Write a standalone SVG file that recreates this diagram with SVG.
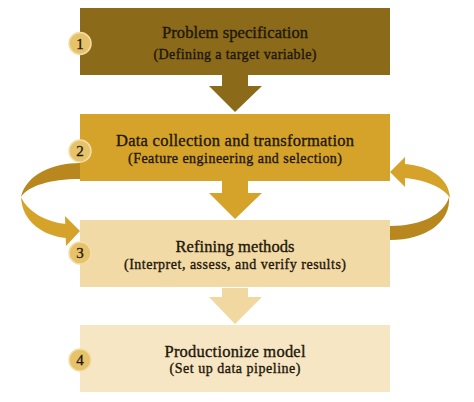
<svg xmlns="http://www.w3.org/2000/svg" width="474" height="402" viewBox="0 0 474 402">
<style>
.t{font-family:"Liberation Serif","Times New Roman",serif;font-size:16.5px;fill:#1e1709;stroke:#1e1709;stroke-width:0.35;text-anchor:middle}
.s{font-family:"Liberation Serif","Times New Roman",serif;font-size:14px;fill:#1e1709;stroke:#1e1709;stroke-width:0.35;text-anchor:middle}
.n{font-family:"Liberation Serif","Times New Roman",serif;font-size:15px;fill:#1e1709;stroke:#1e1709;stroke-width:0.3;text-anchor:middle}
.c{fill:#e6c26a;stroke:#f4dea6;stroke-width:1.5}
</style>
<rect width="474" height="402" fill="#ffffff"/>
<g id="connectors">
<path d="M222,75 H248 V86 H262 L235,112 L209,86 H222 Z" fill="#8b6a1a"/>
<path d="M222,181 H248 V193 H262 L235,219 L209,193 H222 Z" fill="#d6a32a"/>
<path d="M222,288 H248 V297 H262 L235,324 L209,297 H222 Z" fill="#f1d8a0"/>
<g id="loop-left">
<path d="M80,163 C52,163 26,175 21,197 C28,186 50,179 80,179 Z" fill="#b8881f"/>
<path d="M21,197 C22,222 44,236 66,238 L66,224 C46,222 28,212 21,197 Z" fill="#d6a32a"/>
<polygon points="65,216 80,231 66,246" fill="#d6a32a"/>
</g>
<g id="loop-right">
<path d="M390,226 C422,226 444,214 449,197 C451,222 426,240 390,240 Z" fill="#b8881f"/>
<path d="M405,164 C430,166 449,178 450,198 C444,188 426,180 405,178 Z" fill="#d6a32a"/>
<polygon points="405,157 390,172 405,187" fill="#d6a32a"/>
</g>
</g>
<g id="node1">
<rect x="80" y="8" width="310" height="67" fill="#8b6a1a"/>
<text class="t" x="235" y="38" textLength="146" lengthAdjust="spacing">Problem specification</text>
<text class="s" x="235" y="58.5" textLength="163" lengthAdjust="spacing">(Defining a target variable)</text>
<circle class="c" cx="80" cy="43.5" r="11"/>
<text class="n" x="80" y="48.5">1</text>
</g>
<g id="node2">
<rect x="80" y="114" width="310" height="67" fill="#d6a32a"/>
<text class="t" x="235" y="145.7" textLength="238" lengthAdjust="spacing">Data collection and transformation</text>
<text class="s" x="235" y="163" textLength="214" lengthAdjust="spacing">(Feature engineering and selection)</text>
<circle class="c" cx="80" cy="151" r="11"/>
<text class="n" x="80" y="156">2</text>
</g>
<g id="node3">
<rect x="80" y="220" width="310" height="67" fill="#f2daa6"/>
<text class="t" x="235" y="252.3" textLength="119" lengthAdjust="spacing">Refining methods</text>
<text class="s" x="235" y="269" textLength="222" lengthAdjust="spacing">(Interpret, assess, and verify results)</text>
<circle class="c" cx="80" cy="253" r="11"/>
<text class="n" x="80" y="258">3</text>
</g>
<g id="node4">
<rect x="80" y="325" width="310" height="67" fill="#f6e6c3"/>
<text class="t" x="235" y="356.7" textLength="141" lengthAdjust="spacing">Productionize model</text>
<text class="s" x="235" y="373" textLength="131" lengthAdjust="spacing">(Set up data pipeline)</text>
<circle class="c" cx="80" cy="360" r="11"/>
<text class="n" x="80" y="365">4</text>
</g>
</svg>
